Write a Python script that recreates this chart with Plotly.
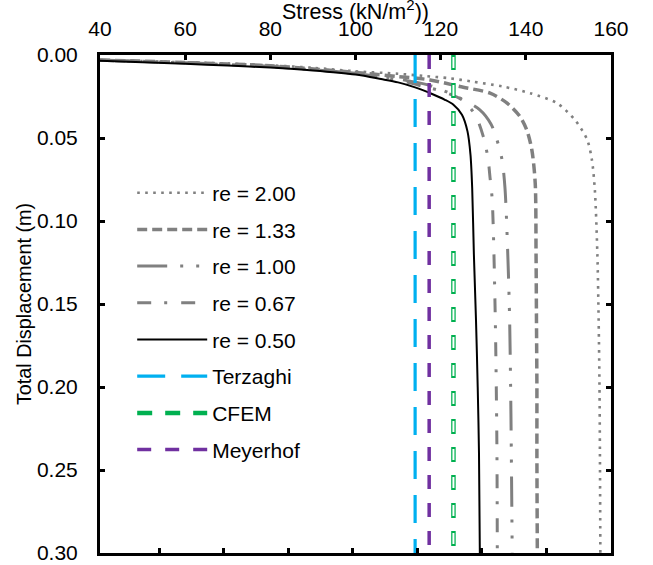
import plotly.graph_objects as go

# ---- data ----
stress_re200 = [40, 50, 60, 70, 80, 90, 100, 110, 116, 122, 127.4, 134.6, 141, 147.3, 151.5, 154.4, 155.5, 156.2, 156.8, 157.1, 157.3, 157.4, 157.5]
disp_re200 = [0.003, 0.0037, 0.0044, 0.0052, 0.0062, 0.0077, 0.0098, 0.0113, 0.0126, 0.014, 0.016, 0.019, 0.023, 0.029, 0.039, 0.051, 0.063, 0.081, 0.12, 0.16, 0.20, 0.24, 0.30]

stress_re133 = [40, 60, 80, 100, 110, 117.5, 124.5, 131.6, 135.6, 138.6, 140.2, 141.4, 142.2, 142.4, 142.5, 142.6, 142.6, 142.7]
disp_re133 = [0.003, 0.0045, 0.0065, 0.0105, 0.013, 0.015, 0.019, 0.023, 0.029, 0.037, 0.045, 0.057, 0.077, 0.12, 0.16, 0.20, 0.24, 0.30]

stress_re100 = [40, 60, 80, 100, 110, 117, 123.8, 129.2, 131.8, 133.2, 134.4, 135.1, 135.8, 136.2, 136.5, 136.8]
disp_re100 = [0.003, 0.0047, 0.0068, 0.011, 0.0145, 0.018, 0.025, 0.033, 0.0415, 0.051, 0.063, 0.080, 0.123, 0.16, 0.216, 0.30]

stress_re067 = [40, 60, 80, 100, 110, 116, 120.5, 125, 128.1, 130, 131.1, 131.6, 132.1, 132.8, 133.2, 133.3]
disp_re067 = [0.0032, 0.0048, 0.007, 0.0112, 0.015, 0.019, 0.022, 0.027, 0.036, 0.049, 0.062, 0.074, 0.087, 0.155, 0.234, 0.30]

stress_re050 = [40, 50, 60, 70, 80, 90, 100, 106, 110, 114, 118, 121, 123, 125, 126.3, 127, 127.4, 127.8, 128.3, 128.7, 129.0, 129.2]
disp_re050 = [0.0035, 0.0044, 0.0053, 0.0064, 0.0076, 0.0093, 0.0118, 0.0145, 0.0165, 0.0195, 0.0235, 0.027, 0.030, 0.036, 0.046, 0.060, 0.080, 0.12, 0.16, 0.20, 0.24, 0.30]

terzaghi_stress = 114.0
cfem_stress = 123.0
meyerhof_stress = 117.3
vline_disp = [0.0, 0.30]

series_names = ["re = 2.00", "re = 1.33", "re = 1.00", "re = 0.67", "re = 0.50"]
method_names = ["Terzaghi", "CFEM", "Meyerhof"]

x_ticks = [40, 60, 80, 100, 120, 140, 160]
y_ticks = [0.00, 0.05, 0.10, 0.15, 0.20, 0.25, 0.30]

FONT = "Liberation Sans, Arial, sans-serif"
GRAY = "#808080"

fig = go.Figure()

curves = [
    (stress_re200, disp_re200, dict(color=GRAY, width=2.6, dash="2.6px,5.4px")),
    (stress_re133, disp_re133, dict(color=GRAY, width=3.5, dash="10px,5px")),
    (stress_re100, disp_re100, dict(color=GRAY, width=3, dash="30px,13px,3px,13px,3px,14px")),
    (stress_re067, disp_re067, dict(color=GRAY, width=3, dash="14px,13px,3px,14px")),
    (stress_re050, disp_re050, dict(color="black", width=2)),
]
for i, ((xs, ys, ln), nm) in enumerate(zip(curves, series_names)):
    fig.add_trace(go.Scatter(x=xs, y=ys, mode="lines", name=nm, line=dict(shape="spline", smoothing=0.8, **ln),
                             legendgroup=f"g{i}"))

fig.add_trace(go.Scatter(x=[terzaghi_stress] * 2, y=vline_disp, mode="lines", name=method_names[0],
                         line=dict(color="#00B0F0", width=3.2, dash="28px,16px"), legendgroup="g5"))
fig.add_trace(go.Scatter(x=[cfem_stress] * 2, y=vline_disp, mode="lines", name=method_names[1],
                         line=dict(color="#00B050", width=4.5, dash="15px,13px"), legendgroup="g6"))
fig.add_trace(go.Scatter(x=[cfem_stress] * 2, y=vline_disp, mode="lines", showlegend=False, hoverinfo="skip",
                         line=dict(color="white", width=2, dash="0px,2px,11px,15px"), legendgroup="g6"))
fig.add_trace(go.Scatter(x=[meyerhof_stress] * 2, y=vline_disp, mode="lines", name=method_names[2],
                         line=dict(color="#7030A0", width=3.5, dash="14px,14px"), legendgroup="g7"))
# helper trace so the bottom tick axis is drawn
fig.add_trace(go.Scatter(x=[1], y=[None], xaxis="x2", showlegend=False, hoverinfo="skip", mode="lines"))

fig.update_layout(
    width=653, height=565,
    margin=dict(l=100, r=42, t=55, b=12),
    paper_bgcolor="white", plot_bgcolor="white",
    font=dict(family=FONT, color="black", size=21),
    title=dict(text="Stress (kN/m<sup>2</sup>))", font=dict(family=FONT, size=21.5, color="black"),
               x=0.5, xref="paper", xanchor="center", y=1 - 11.5 / 565, yref="container", yanchor="middle"),
    showlegend=True,
    legend=dict(x=0.063, xanchor="left", y=0.764, yanchor="top", bgcolor="rgba(0,0,0,0)",
                font=dict(family=FONT, size=21, color="black"), itemwidth=70,
                tracegroupgap=6.4, traceorder="grouped"),
    xaxis=dict(side="top", range=[40, 160], tickvals=x_ticks, ticks="inside", ticklen=5, tickwidth=3,
               tickcolor="black", showline=True, linewidth=3, linecolor="black", showgrid=False,
               zeroline=False, tickfont=dict(size=21), ticklabelstandoff=8, automargin=False),
    xaxis2=dict(overlaying="x", side="bottom", anchor="y", range=[0.078, 8], dtick=1, ticks="inside",
                ticklen=5, tickwidth=3, tickcolor="black", showline=True, linewidth=3, linecolor="black",
                showticklabels=False, showgrid=False, zeroline=False, automargin=False),
    yaxis=dict(range=[0.30, 0.0], tickvals=y_ticks, tickformat=".2f", ticks="inside", ticklen=5, tickwidth=3,
               tickcolor="black", showline=True, linewidth=3, linecolor="black", mirror="ticks",
               showgrid=False, zeroline=False, tickfont=dict(size=21), ticklabelstandoff=15, automargin=False,
               title=dict(text="Total Displacement (m)", font=dict(size=19.8), standoff=0)),
)

fig.write_html("out.html", post_script="document.body.style.margin='0px';",
               config={"displayModeBar": False})
